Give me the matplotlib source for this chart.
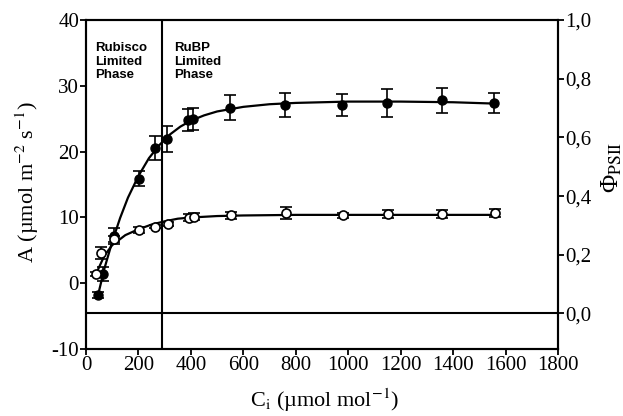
import matplotlib
matplotlib.use('Agg')
import matplotlib.pyplot as plt

plt.rcParams['font.family'] = ['Liberation Serif', 'DejaVu Serif']
plt.rcParams['mathtext.fontset'] = 'stix'

# net assimilation A (umol m-2 s-1), filled circles
ci_a = [46, 65, 107, 203, 264, 310, 390, 409, 550, 760, 978, 1146, 1356, 1555]
a_val = [-1.8, 1.4, 7.2, 15.9, 20.5, 21.9, 24.8, 25.0, 26.7, 27.1, 27.1, 27.4, 27.8, 27.4]
a_err = [0.4, 1.1, 1.2, 1.15, 1.8, 2.0, 1.7, 1.7, 1.9, 1.8, 1.7, 2.1, 1.9, 1.5]

# fitted curve for A
ci_a_fit = [46, 70, 100, 130, 160, 200, 240, 280, 320, 360, 400, 450, 500, 600, 700,
            800, 1000, 1200, 1400, 1555]
a_fit = [-1.8, 2.2, 6.3, 9.9, 13.0, 16.3, 19.0, 21.0, 22.6, 23.8, 24.7, 25.5, 26.1,
         26.8, 27.2, 27.4, 27.6, 27.6, 27.5, 27.3]

# PSII quantum yield, open circles
ci_phi = [38, 57, 107, 203, 264, 313, 394, 413, 554, 764, 980, 1150, 1357, 1559]
phi_val = [0.135, 0.206, 0.253, 0.285, 0.296, 0.305, 0.327, 0.330, 0.334, 0.343,
           0.334, 0.339, 0.339, 0.343]
phi_err = [0.008, 0.02, 0.01, 0.01, 0.006, 0.006, 0.012, 0.012, 0.012, 0.02,
           0.008, 0.012, 0.012, 0.014]

ci_phi_fit = [45, 70, 100, 150, 200, 250, 300, 350, 400, 500, 600, 800, 1000, 1200,
              1400, 1555]
phi_fit = [0.148, 0.197, 0.233, 0.267, 0.287, 0.303, 0.314, 0.323, 0.327, 0.332,
           0.334, 0.336, 0.336, 0.336, 0.336, 0.336]

xticks = [0, 200, 400, 600, 800, 1000, 1200, 1400, 1600, 1800]
a_ticks = [-10, 0, 10, 20, 30, 40]
phi_ticks = [0.0, 0.2, 0.4, 0.6, 0.8, 1.0]
phi_ticklabels = ['0,0', '0,2', '0,4', '0,6', '0,8', '1,0']

fig = plt.figure(figsize=(6.23, 4.16), dpi=100)
ax = fig.add_axes([86 / 623, 1 - 349 / 416, 472 / 623, 329 / 416])
ax2 = ax.twinx()

ax.plot(ci_a_fit, a_fit, color='black', lw=1.6, zorder=3)
ax.errorbar(ci_a, a_val, yerr=a_err, fmt='o', color='black', ms=6.5,
            capsize=4, elinewidth=1.2, capthick=1.2, zorder=4)

ax2.plot(ci_phi_fit, phi_fit, color='black', lw=1.6, zorder=3)
ax2.errorbar(ci_phi, phi_val, yerr=phi_err, fmt='o', mfc='white', mec='black',
             color='black', ms=6.5, mew=1.2, capsize=4, elinewidth=1.2,
             capthick=1.2, zorder=4)

ax.axvline(290, color='black', lw=1.5)
ax2.axhline(0.0, color='black', lw=1.5)

ax.set_xlim(0, 1800)
ax.set_ylim(-10, 40)
ax2.set_ylim(-0.121, 1.0)

ax.set_xticks(xticks)
ax.set_yticks(a_ticks)
ax.set_yticklabels([str(t) for t in a_ticks])
ax2.set_yticks(phi_ticks)
ax2.set_yticklabels(phi_ticklabels)

for a in (ax, ax2):
    for s in a.spines.values():
        s.set_linewidth(1.5)
ax.tick_params(axis='both', direction='out', length=4, width=1.3, labelsize=15, pad=1)
ax2.tick_params(axis='y', direction='out', length=4, width=1.3, labelsize=15, pad=1)

# axis titles placed by hand
fig.text(325 / 623, 1 - 400 / 416, r'C$_{\mathrm{i}}$ (µmol mol$^{\mathrm{-1}}$)',
         fontsize=16, ha='center', va='center')
fig.text(27 / 623, 1 - 182 / 416, r'A (µmol m$^{\mathrm{-2}}$ s$^{\mathrm{-1}}$)',
         fontsize=16, ha='center', va='center', rotation=90)
fig.text(612 / 623, 1 - 167 / 416, r'Φ$_{\mathrm{PSII}}$',
         fontsize=18, ha='center', va='center', rotation=90)

ax.text(35, 36.6, 'Rubisco\nLimited\nPhase', family='Liberation Sans', weight='bold',
        fontsize=9.5, va='top', ha='left', linespacing=1.15)
ax.text(335, 36.6, 'RuBP\nLimited\nPhase', family='Liberation Sans', weight='bold',
        fontsize=9.5, va='top', ha='left', linespacing=1.15)

fig.savefig('out.png', dpi=100)
